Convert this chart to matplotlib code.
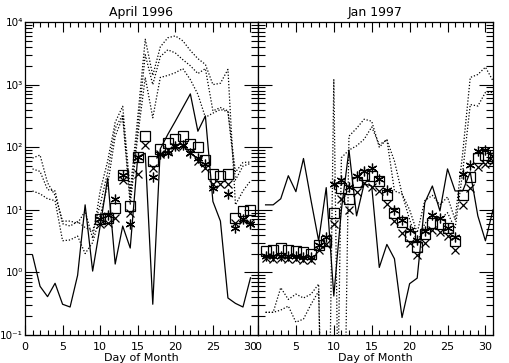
import numpy as np
import matplotlib
matplotlib.use("Agg")
import matplotlib.pyplot as plt
from matplotlib.ticker import MultipleLocator, LogLocator, NullFormatter, FuncFormatter

nan = np.nan
TINY = 1e-6  # values that drop off the bottom of the log axis

# ---- April 1996 (days 1..30) ----
apr_days = np.arange(1, 31)
apr_solid = [1.9, 0.6, 0.41, 0.67, 0.31, 0.28, 0.9, 12, 1.05, 5.5,
             32, 1.36, 5.5, 2.45, 70, 80, 0.31, 94, 160, 260,
             430, 710, 180, 316, 13.6, 6.6, 0.39, 0.32, 0.28, 0.82]
apr_dot1 = [67, 75, 27, 17, 6.6, 6.6, 6.1, 9.5, 3.5, 20,
            60, 250, 450, 20, 300, 5300, 1400, 4000, 5600, 6000,
            5000, 3500, 2600, 2100, 1000, 1050, 1750, 12, 20, 29]
apr_dot2 = [45, 41, 21, 20, 6.0, 5.5, 6.5, 5.2, 4.6, 12,
            40, 200, 330, 15, 200, 3000, 1000, 2800, 3600, 3200,
            2500, 2000, 1500, 1800, 380, 430, 380, 40, 57, 58]
apr_dot3 = [20, 18, 15, 14, 3.2, 3.3, 3.8, 2.0, 3.0, 8,
            25, 150, 300, 12, 150, 1300, 295, 1300, 1400, 1550,
            1800, 1200, 700, 300, 350, 400, 370, 30, 50, 55]

apr_mdays = np.arange(10, 31)
apr_sq = [7.1, 7.4, 10.6, 36, 11.5, 69, 150, 60, 93, 117,
          135, 150, 112, 100, 62, 37, 35, 37, 7.4, 9.5, 10]
apr_x = [6.0, 6.1, 7.4, 30, 8.9, 37, 108, 47, 78, 90,
         100, 105, 85, 60, 47, 26, 26, 26, 6.2, 6.8, 6.1]
apr_ast = [7.0, 8.2, 15, 36, 5.9, 69, nan, 33, 78, 81,
           105, 108, 81, 67, 54, 22, nan, 18, 5.1, 7.1, 6.0]

# ---- Jan 1997 (days 1..31) ----
jan_days = np.arange(1, 32)
jan_solid = [12, 12, 15, 35, 19.5, 66, 14, 3.2, 22.6, 0.42,
             10, 90, 8, 26, 24, 1.2, 2.8, 1.65, 0.19, 0.66,
             0.81, 13, 24, 9.6, 45, 20, 20, 40, 8, 3.2, 10]
jan_dot1 = [0.23, 0.23, 0.25, 0.29, 0.16, 0.18, 0.31, 0.5, TINY, 1200,
            TINY, 150, 200, 280, 260, 100, 134, 20, 18, 10,
            4.3, 14, 17, 12, 16, 7, 80, 1300, 1450, 1900, 1150]
jan_dot2 = [0.23, 0.23, 0.57, 0.37, 0.45, 0.39, 0.45, 0.65, TINY, TINY,
            68, 90, 105, 134, 210, 110, 130, 60, 18, 7,
            3.0, 6, 8, 7, 9, 5, 40, 480, 455, 750, 750]

jan_sq = [2.2, 2.3, 2.43, 2.3, 2.2, 2.1, 2.0, 2.7, 3.2, 9,
          22.5, 15, 28, 36, 35, 29, 17, 8.8, 6.4, 3.8,
          2.55, 4.1, 6.2, 6.0, 5.1, 3.2, 17, 33, 68, 75, 66]
jan_ast = [1.85, 1.8, 1.85, 1.8, 1.8, 1.75, 1.75, 2.7, 3.7, 25.6,
           30, 23, 35, 41, 47, 31, 21, 10, 6.8, 4.7,
           3.25, 4.6, 8.4, 7.5, 5.1, 3.7, 37, 52, 87, 90, 72]
jan_x = [1.68, 1.65, 1.68, 1.65, 1.65, 1.6, 1.6, 2.25, 2.8, 5.9,
         15, 10, 19.5, 27, 23, 20, 12.2, 6.6, 4.3, 2.9,
         1.9, 3.0, 4.7, 4.5, 3.8, 2.25, 11.9, 22.6, 48, 53, 60]

titles = ["April 1996", "Jan 1997"]

plt.rcParams['font.family'] = ['DejaVu Sans']

SUP = str.maketrans("-0123456789", "⁻⁰¹²³⁴⁵⁶⁷⁸⁹")


def decade_label(v, pos):
    # IDL-style 10^n labels with small superscripts
    n = int(round(np.log10(v)))
    return "10" + str(n).translate(SUP)


fig = plt.figure(figsize=(5.1, 3.63), dpi=100)
ax1 = fig.add_axes([25 / 510, 28 / 363, 233 / 510, 313 / 363])
ax2 = fig.add_axes([258 / 510, 28 / 363, 235 / 510, 313 / 363])

star = (6, 2, 0)


def draw_panel(ax, days, solid, dotted, mdays, sq, xs, ast):
    ax.plot(days, solid, color='k', lw=0.9, ls='-')
    for d in dotted:
        ax.plot(days, d, color='k', lw=0.9, ls=(0, (1, 1.5)))
    ax.plot(mdays, sq, ls='none', marker='s', ms=6.5, mfc='none', mec='k', mew=0.9)
    ax.plot(mdays, xs, ls='none', marker='x', ms=5.5, mec='k', mew=0.9)
    ax.plot(mdays, ast, ls='none', marker=star, ms=7, mec='k', mew=0.9)


draw_panel(ax1, apr_days, apr_solid, [apr_dot1, apr_dot2, apr_dot3],
           apr_mdays, apr_sq, apr_x, apr_ast)
draw_panel(ax2, jan_days, jan_solid, [jan_dot1, jan_dot2],
           jan_days, jan_sq, jan_x, jan_ast)

for i, ax in enumerate([ax1, ax2]):
    ax.set_yscale('log')
    ax.set_ylim(0.1, 1e4)
    ax.set_xlim(0, 31)
    ax.xaxis.set_major_locator(MultipleLocator(5))
    ax.xaxis.set_minor_locator(MultipleLocator(1))
    ax.yaxis.set_major_locator(LogLocator(base=10, numticks=10))
    ax.yaxis.set_minor_locator(LogLocator(base=10, subs=np.arange(2, 10), numticks=20))
    ax.yaxis.set_major_formatter(FuncFormatter(decade_label))
    ax.yaxis.set_minor_formatter(NullFormatter())
    ax.tick_params(which='both', direction='in', top=True, right=True,
                   width=0.8, labelsize=8)
    ax.tick_params(axis='x', which='major', length=7, pad=5)
    ax.tick_params(axis='x', which='minor', length=3.5)
    ax.tick_params(axis='y', which='major', length=10, pad=1.5, labelsize=7.5)
    ax.tick_params(axis='y', which='minor', length=5)
    for s in ax.spines.values():
        s.set_linewidth(0.9)
    ax.set_xlabel("Day of Month", fontsize=8, labelpad=1)
    ax.set_title(titles[i], fontsize=9, pad=4)

ax2.set_yticklabels([])

fig.savefig("out.png", dpi=100)
